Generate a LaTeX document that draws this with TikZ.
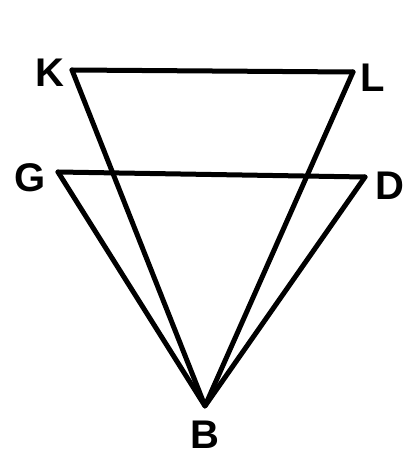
\documentclass[tikz,border=0pt]{standalone}
\usepackage{fontspec}
\setmainfont{Liberation Sans}
\begin{document}
\begin{tikzpicture}[x=1pt,y=-1pt,
  seg/.style={line width=5pt,line cap=round,line join=round},
  lab/.style={font=\fontsize{40}{40}\selectfont\bfseries,inner sep=0pt,anchor=center}]
\useasboundingbox (0,0) rectangle (405,458);
\coordinate (K) at (72,70);
\coordinate (L) at (353,72);
\coordinate (G) at (58,172);
\coordinate (D) at (365,177);
\coordinate (B) at (205,406);
\draw[seg] (K) -- (L);
\draw[seg] (G) -- (D);
\draw[seg] (K) -- (B) -- (L);
\draw[seg] (G) -- (B) -- (D);
\node[lab] (kl) at (50,73) {K};
\node[lab] (ll) at (373,78) {L};
\node[lab] (gl) at (30,178) {G};
\node[lab] (dl) at (390,186) {D};
\node[lab] (bl) at (205,435) {B};
\end{tikzpicture}
\end{document}
